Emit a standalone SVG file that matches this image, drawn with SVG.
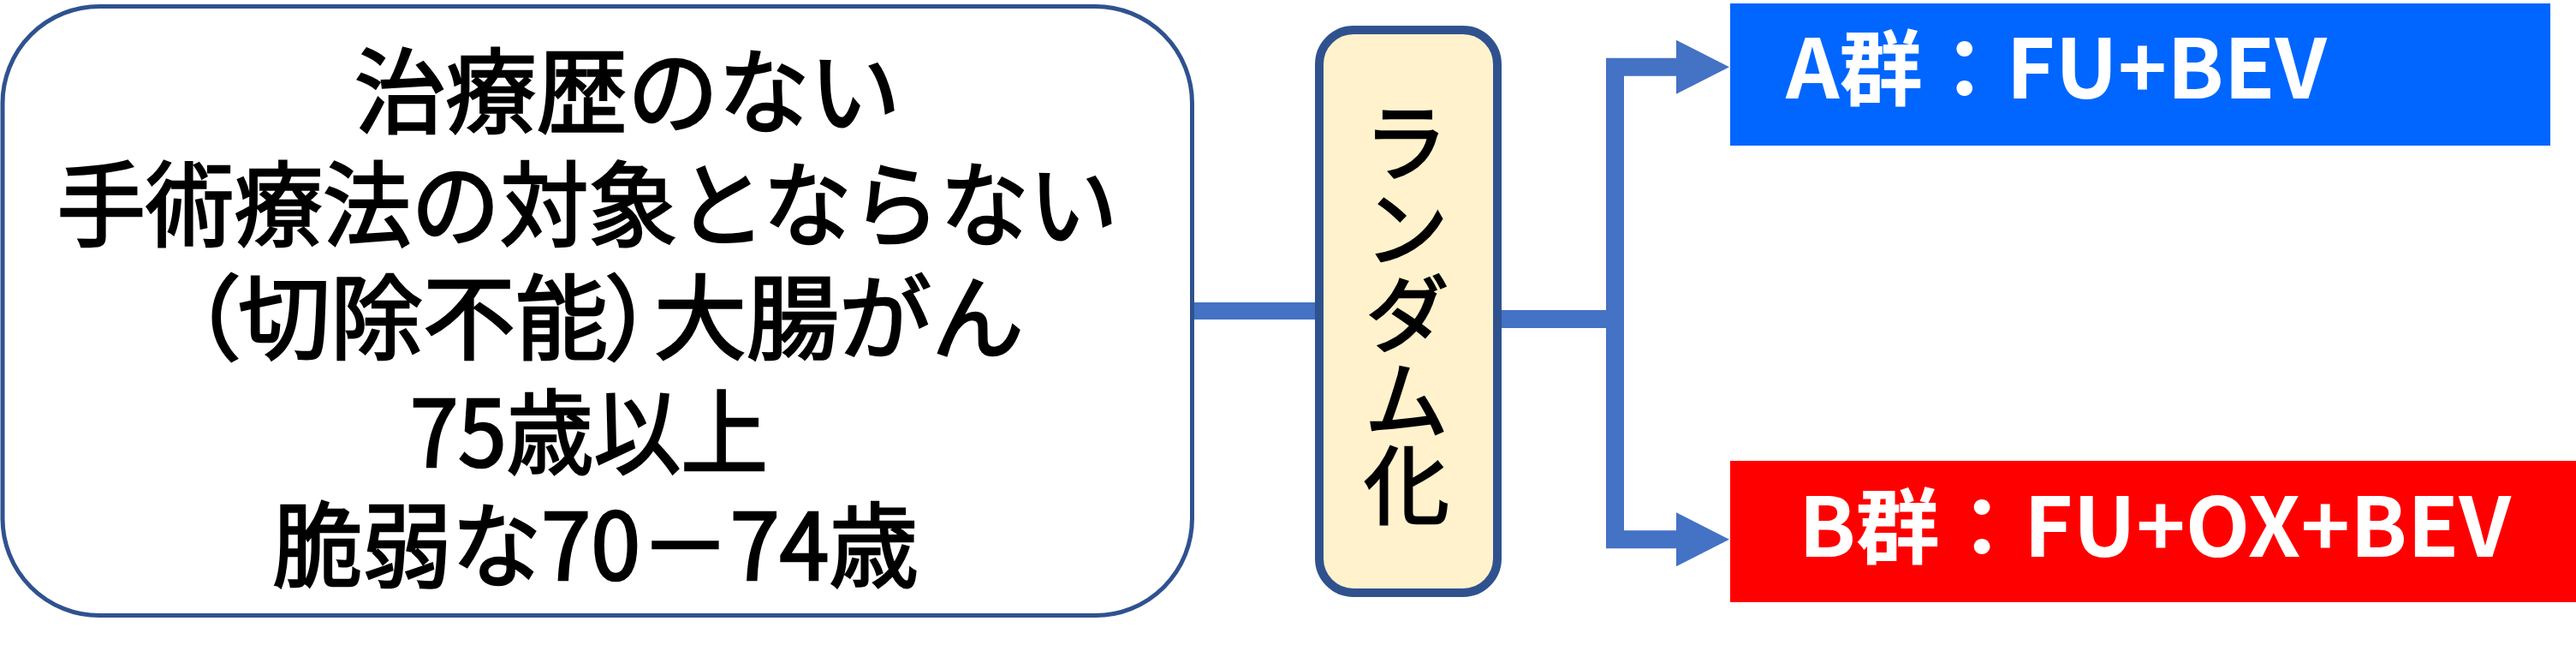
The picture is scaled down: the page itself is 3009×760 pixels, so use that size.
<svg xmlns="http://www.w3.org/2000/svg" width="3009" height="760" viewBox="0 0 3009 760">
<style>
.conn{fill:none;stroke:#4472C4;stroke-linejoin:miter}
.main{font-family:"Noto Sans CJK JP","Noto Sans CJK SC",sans-serif;font-weight:normal;fill:#000;stroke:#000;stroke-width:2.6px}
.rand{font-family:"Noto Sans CJK JP","Noto Sans CJK SC",sans-serif;font-weight:normal;fill:#000;stroke:#000;stroke-width:2.4px}
.grp{font-family:"Noto Sans CJK JP","Noto Sans CJK SC",sans-serif;font-weight:bold;fill:#fff}
.p{font-feature-settings:"palt" 1}
</style>
<defs>
<marker id="arrow" markerUnits="userSpaceOnUse" markerWidth="64" markerHeight="64" refX="0" refY="31.5" orient="auto" overflow="visible">
<path d="M0,0 L62,31.5 L0,63 Z" fill="#4472C4"/>
</marker>
</defs>
<rect width="3009" height="760" fill="#fff"/>
<g id="connectors">
<path class="conn" d="M1392,363 H1541" stroke-width="20"/>
<path class="conn" d="M1749,372.5 H1897" stroke-width="21"/>
<path class="conn" d="M1886.5,372 V78.3 H1958" stroke-width="21" marker-end="url(#arrow)"/>
<path class="conn" d="M1886.5,372 V629.7 H1958" stroke-width="21" marker-end="url(#arrow)"/>
</g>
<g id="criteria">
<rect x="3" y="7.5" width="1389.5" height="711" rx="113" ry="113" fill="#fff" stroke="#2F528F" stroke-width="5"/>
<text class="main" font-size="108" text-anchor="middle">
<tspan x="745" y="147" textLength="638" lengthAdjust="spacingAndGlyphs">治療歴のない</tspan>
<tspan x="698" y="279" textLength="1239" lengthAdjust="spacingAndGlyphs">手術療法の対象とならない</tspan>
<tspan x="722" y="411"><tspan class="p">（</tspan>切除不能<tspan class="p">）</tspan>大腸がん</tspan>
<tspan x="700" y="545" textLength="418" lengthAdjust="spacingAndGlyphs">75歳以上</tspan>
<tspan x="696" y="677" textLength="754" lengthAdjust="spacingAndGlyphs">脆弱な70－74歳</tspan>
</text>
</g>
<g id="randomization">
<rect x="1541" y="35" width="208" height="657" rx="40" ry="40" fill="#FFF2CC" stroke="#2F528F" stroke-width="10"/>
<text class="rand" x="1643" y="116" font-size="100" writing-mode="vertical-rl" style="writing-mode:vertical-rl">ランダム化</text>
</g>
<g id="groupA">
<rect x="2021" y="4" width="958" height="166" fill="#0066FF"/>
<text class="grp" x="2086" y="115" font-size="96" textLength="632" lengthAdjust="spacingAndGlyphs">A群：FU+BEV</text>
</g>
<g id="groupB">
<rect x="2021" y="538" width="988" height="165" fill="#FF0000"/>
<text class="grp" x="2101" y="650" font-size="96" textLength="832" lengthAdjust="spacingAndGlyphs">B群：FU+OX+BEV</text>
</g>
</svg>
